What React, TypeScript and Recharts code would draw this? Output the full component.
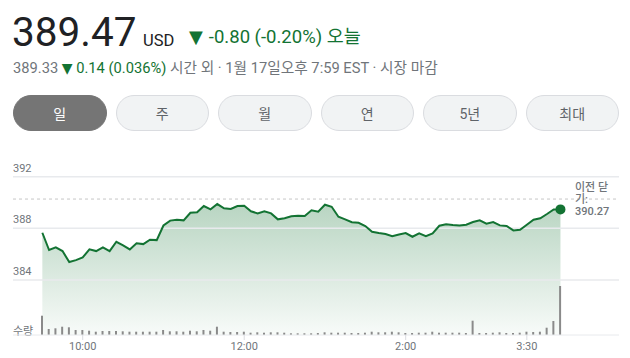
import {
  Area,
  Bar,
  ComposedChart,
  Line,
  ReferenceLine,
  XAxis,
  YAxis,
} from 'recharts';

// minutes since 9:30 open, 5-min bars
const MINUTES = [
  0, 5, 10, 15, 20, 25, 30, 35, 40, 45, 50, 55, 60, 65, 70, 75, 80, 85, 90, 95,
  100, 105, 110, 115, 120, 125, 130, 135, 140, 145, 150, 155, 160, 165, 170, 175,
  180, 185, 190, 195, 200, 205, 210, 215, 220, 225, 230, 235, 240, 245, 250, 255,
  260, 265, 270, 275, 280, 285, 290, 295, 300, 305, 310, 315, 320, 325, 330, 335,
  340, 345, 350, 355, 360, 365, 370, 375, 380, 385,
];

const PRICES = [
  387.66, 386.32, 386.53, 386.24, 385.39, 385.54, 385.75, 386.37, 386.24, 386.53,
  386.24, 386.96, 386.68, 386.37, 386.84, 386.78, 387.12, 387.09, 388.22, 388.6,
  388.67, 388.62, 389.21, 389.24, 389.73, 389.47, 389.88, 389.55, 389.5, 389.73,
  389.75, 389.32, 389.16, 389.32, 389.16, 388.7, 388.78, 388.93, 388.97, 388.95,
  389.4, 389.29, 389.83, 389.67, 388.9, 388.7, 388.47, 388.43, 388.18, 387.74,
  387.64, 387.56, 387.4, 387.53, 387.64, 387.35, 387.61, 387.4, 387.61, 388.2,
  388.31, 388.26, 388.23, 388.28, 388.49, 388.62, 388.36, 388.49, 388.23, 388.18,
  387.84, 387.89, 388.28, 388.67, 388.78, 389.11, 389.47, 389.47,
];

// volume, thousands of shares
const VOLUME = [
  193, 60, 67, 83, 77, 50, 50, 43, 33, 40, 40, 40, 37, 33, 33, 33, 33, 33, 50, 37,
  37, 33, 43, 37, 50, 43, 83, 33, 30, 30, 33, 23, 27, 23, 27, 27, 23, 17, 17, 17,
  17, 20, 27, 23, 23, 23, 20, 20, 23, 33, 27, 27, 33, 27, 20, 20, 23, 23, 33, 23,
  23, 23, 23, 20, 143, 20, 20, 23, 27, 20, 20, 23, 33, 30, 33, 73, 140, 490,
];

const PREV_CLOSE = 390.27;
const Y_TICKS = [392, 388, 384];
const X_TICKS = [30, 150, 270, 360];
const X_TICK_LABELS = ['10:00', '12:00', '2:00', '3:30'];
const TABS = ['일', '주', '월', '연', '5년', '최대'];

const GREEN = '#137333';
const GRAY_TEXT = '#70757a';
const FONT = "Roboto, 'Noto Sans CJK KR', sans-serif";

const data = MINUTES.map((t, i) => ({ t, price: PRICES[i], vol: VOLUME[i] }));

function GridLabel(props: any) {
  const { viewBox, txt } = props;
  return (
    <text x={viewBox.x} y={viewBox.y - 5} fill={GRAY_TEXT} fontSize={11} fontFamily={FONT}>
      {txt}
    </text>
  );
}

function PrevCloseLabel(props: any) {
  const { viewBox } = props;
  const x = viewBox.x + viewBox.width - 44;
  const y = viewBox.y;
  return (
    <text fill={GRAY_TEXT} fontSize={11} fontWeight={500} fontFamily={FONT} dominantBaseline="central">
      <tspan x={x} y={y - 12}>이전 닫</tspan>
      <tspan x={x} y={y}>기:</tspan>
      <tspan x={x} y={y + 12}>{PREV_CLOSE.toFixed(2)}</tspan>
    </text>
  );
}

function LastDot(props: any) {
  const { cx, cy, index } = props;
  if (index !== data.length - 1) return <g key={`d${index}`} />;
  return <circle key={`d${index}`} cx={cx} cy={cy} r={5} fill={GREEN} />;
}

export default function App() {
  return (
    <div
      style={{
        position: 'absolute',
        left: 0,
        top: 0,
        width: 630,
        height: 358,
        overflow: 'hidden',
        background: '#fff',
        fontFamily: FONT,
      }}
    >
      <div style={{ position: 'absolute', left: 12, top: 12, fontSize: 40.5, lineHeight: '40px', color: '#202124' }}>
        389.47
      </div>
      <div style={{ position: 'absolute', left: 143, top: 32.5, fontSize: 16.5, lineHeight: '16px', color: '#202124' }}>
        USD
      </div>
      <div style={{ position: 'absolute', left: 189, top: 28, fontSize: 18.5, lineHeight: '18px', color: GREEN, whiteSpace: 'nowrap' }}>
        <span style={{ fontFamily: 'DejaVu Sans', fontSize: 18 }}>▼</span>
        <span style={{ marginLeft: 6 }}>-0.80 (-0.20%) 오늘</span>
      </div>
      <div style={{ position: 'absolute', left: 13, top: 61, fontSize: 14.7, lineHeight: '14px', color: GRAY_TEXT, whiteSpace: 'nowrap' }}>
        389.33{' '}
        <span style={{ color: GREEN }}>
          <span style={{ fontFamily: 'DejaVu Sans', fontSize: 14 }}>▼</span> 0.14 (0.036%)
        </span>{' '}
        시간 외 · 1월 17일오후 7:59 EST · 시장 마감
      </div>

      <div style={{ position: 'absolute', left: 13, top: 95, width: 606, height: 36, display: 'flex', gap: 9 }}>
        {TABS.map((t, i) => (
          <div
            key={t}
            style={{
              flex: 1,
              boxSizing: 'border-box',
              borderRadius: 18,
              border: i === 0 ? '1px solid #757575' : '1px solid #dadce0',
              background: i === 0 ? '#757575' : '#f1f3f4',
              color: i === 0 ? '#fff' : '#5f6368',
              fontSize: 14,
              display: 'flex',
              alignItems: 'center',
              justifyContent: 'center',
            }}
          >
            {t}
          </div>
        ))}
      </div>

      <div style={{ position: 'absolute', left: 13, top: 326, fontSize: 11, lineHeight: '11px', color: GRAY_TEXT }}>
        수량
      </div>

      <div style={{ position: 'absolute', left: 13, top: 150 }}>
        <ComposedChart width={606} height={208} data={data} margin={{ top: 13.8, right: 0, bottom: 0, left: 0 }}>
          <defs>
            <linearGradient id="priceFill" x1="0" y1="0" x2="0" y2="1">
              <stop offset="0%" stopColor={GREEN} stopOpacity={0.3} />
              <stop offset="100%" stopColor={GREEN} stopOpacity={0.03} />
            </linearGradient>
          </defs>
          <XAxis
            dataKey="t"
            type="number"
            domain={[-21.8, 428.5]}
            allowDataOverflow
            ticks={X_TICKS}
            tickFormatter={(v: number) => X_TICK_LABELS[X_TICKS.indexOf(v)] ?? ''}
            axisLine={{ stroke: '#e8eaed' }}
            tickLine={{ stroke: '#dadce0' }}
            tickSize={5}
            tick={{ fill: GRAY_TEXT, fontSize: 11, fontFamily: FONT }}
            height={23}
          />
          <YAxis yAxisId="p" domain={[379.74, 393]} allowDataOverflow hide />
          <YAxis yAxisId="v" domain={[0, 1712]} allowDataOverflow hide />
          <Area
            yAxisId="p"
            type="linear"
            dataKey="price"
            stroke="none"
            fill="url(#priceFill)"
            fillOpacity={1}
            isAnimationActive={false}
          />
          {Y_TICKS.map((v) => (
            <ReferenceLine
              key={v}
              yAxisId="p"
              y={v}
              stroke="#e8eaed"
              strokeWidth={1.5}
              label={<GridLabel txt={String(v)} />}
            />
          ))}
          <ReferenceLine
            yAxisId="p"
            y={PREV_CLOSE}
            stroke="#c6c6c6"
            strokeDasharray="3 3"
            label={<PrevCloseLabel />}
          />
          <Bar yAxisId="v" dataKey="vol" barSize={2} fill="#8a8a8a" isAnimationActive={false} />
          <Line
            yAxisId="p"
            type="linear"
            dataKey="price"
            stroke={GREEN}
            strokeWidth={2}
            dot={LastDot}
            activeDot={false}
            isAnimationActive={false}
          />
        </ComposedChart>
      </div>
    </div>
  );
}
